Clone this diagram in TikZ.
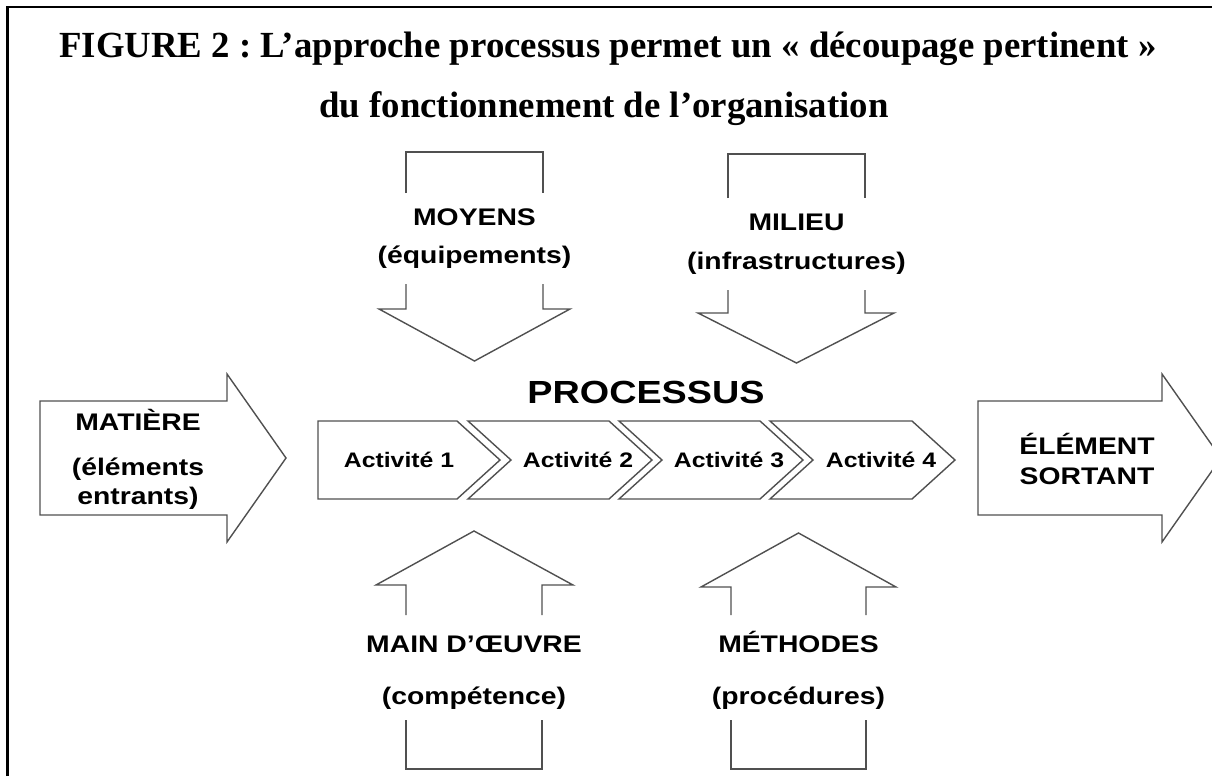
\documentclass[tikz,border=0pt]{standalone}
\usepackage{fontspec}
\setmainfont{Liberation Serif}
\setsansfont{Liberation Sans}
\definecolor{linegray}{RGB}{80,80,80}
\frenchspacing

\begin{document}
\begin{tikzpicture}[x=1pt,y=-1pt,
  shp/.style={draw=linegray, line width=1.4pt, line join=miter},
  ttl/.style={font=\bfseries\fontsize{36.8}{44}\selectfont, anchor=base, inner sep=0pt},
  lbl/.style={font=\sffamily\bfseries\fontsize{24}{28}\selectfont, xscale=1.18, anchor=base, inner sep=0pt},
  act/.style={font=\sffamily\bfseries\fontsize{21}{25}\selectfont, xscale=1.18, anchor=base, inner sep=0pt}]
\useasboundingbox (0,0) rectangle (1212,776);

% cadre
\draw[line width=2.5pt] (7.5,776) -- (7.5,7) -- (1212,7);

% titre
\node[ttl] (titre1) at (608,57) {FIGURE 2 : L’approche processus permet un « découpage pertinent »};
\node[ttl] (titre2) at (604,117) {du fonctionnement de l’organisation};

% fleches du haut
\draw[shp] (406,193) -- (406,152) -- (543,152) -- (543,193);
\draw[shp] (406,284) -- (406,309) -- (379,309) -- (474.5,361) -- (570,309) -- (543,309) -- (543,284);
\node[lbl] (moyens) at (474.5,225) {MOYENS};
\node[lbl] (equip) at (474.5,263) {(équipements)};

\draw[shp] (728,198) -- (728,154) -- (865,154) -- (865,198);
\draw[shp] (728,290) -- (728,313) -- (698,313) -- (796.5,363) -- (894,313) -- (865,313) -- (865,290);
\node[lbl] (milieu) at (796.5,230) {MILIEU};
\node[lbl] (infra) at (796.5,269) {(infrastructures)};

% entree et sortie
\draw[shp] (40,401) -- (227,401) -- (227,374) -- (286,458) -- (227,542) -- (227,515) -- (40,515) -- cycle;
\node[lbl] (matiere) at (138,430) {MATIÈRE};
\node[lbl] (elem) at (138,475) {(éléments};
\node[lbl] (entr) at (138,504) {entrants)};

\draw[shp] (978,401) -- (1162,401) -- (1162,374) -- (1221,458) -- (1162,542) -- (1162,515) -- (978,515) -- cycle;
\node[lbl] (element) at (1087,454) {ÉLÉMENT};
\node[lbl] (sortant) at (1087,484) {SORTANT};

% processus
\node[lbl, font=\sffamily\bfseries\fontsize{32}{38}\selectfont] (processus) at (646,403) {PROCESSUS};
\draw[shp] (318,421) -- (457,421) -- (500,460) -- (457,499) -- (318,499) -- cycle;
\draw[shp] (468,421) -- (609,421) -- (652,460) -- (609,499) -- (468,499) -- (511,460) -- cycle;
\draw[shp] (619,421) -- (760,421) -- (803,460) -- (760,499) -- (619,499) -- (662,460) -- cycle;
\draw[shp] (770,421) -- (912,421) -- (955,460) -- (912,499) -- (770,499) -- (813,460) -- cycle;
\node[act] (act1) at (399,467) {Activité 1};
\node[act] (act2) at (578,467) {Activité 2};
\node[act] (act3) at (729,467) {Activité 3};
\node[act] (act4) at (881,467) {Activité 4};

% fleches du bas
\draw[shp] (406,615) -- (406,585) -- (376,585) -- (474,531) -- (573,585) -- (542,585) -- (542,615);
\draw[shp] (406,720) -- (406,769) -- (542,769) -- (542,720);
\node[lbl] (main) at (474,652) {MAIN D’ŒUVRE};
\node[lbl] (comp) at (474,704) {(compétence)};

\draw[shp] (731,615) -- (731,587) -- (701,587) -- (798.5,533) -- (896,587) -- (866,587) -- (866,615);
\draw[shp] (731,720) -- (731,769) -- (866,769) -- (866,720);
\node[lbl] (methodes) at (798.5,652) {MÉTHODES};
\node[lbl] (proc) at (798.5,704) {(procédures)};
\end{tikzpicture}
\end{document}
